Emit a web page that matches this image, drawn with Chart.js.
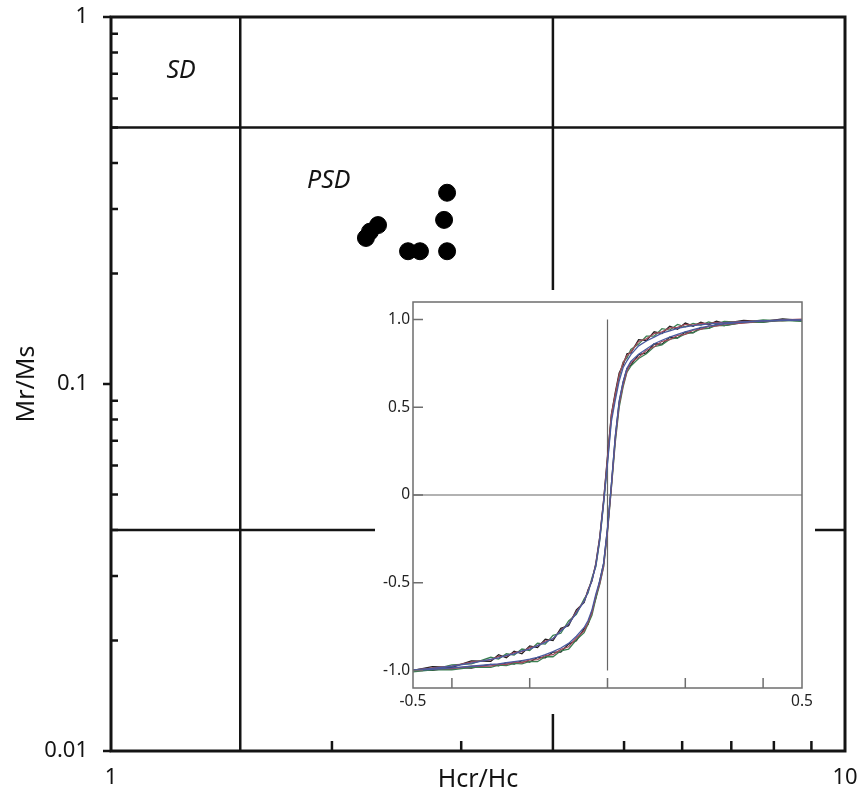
<!DOCTYPE html>
<html>
<head>
<meta charset="utf-8">
<script src="https://cdn.jsdelivr.net/npm/chart.js@4.4.1/dist/chart.umd.min.js"></script>
<style>
  html, body { margin: 0; padding: 0; background: #fff; }
  #wrap { position: relative; width: 859px; height: 798px; }
  #dayPlot { position: absolute; left: 0; top: 0; width: 859px; height: 798px; }
  #loopPlot { position: absolute; left: 375px; top: 290px; width: 440px; height: 424px; background: #fff; }
</style>
</head>
<body>
<div id="wrap">
  <canvas id="dayPlot" width="859" height="798"></canvas>
  <canvas id="loopPlot" width="440" height="424"></canvas>
</div>
<script>
// Day plot samples
const hcrHc = [2.225, 2.253, 2.311, 2.539, 2.636, 2.870, 2.843, 2.870];
const mrMs = [0.250, 0.260, 0.271, 0.230, 0.230, 0.230, 0.280, 0.332];

// domain boundaries
const hcrBounds = [1.5, 4];
const mrMsBounds = [0.5, 0.04];

const dayXTicks = [1, 10];
const dayYTicks = [0.01, 0.1, 1];

const regionNames = ['SD', 'PSD'];
const regionHcr = [1.246, 1.98];
const regionMr = [0.712, 0.357];

// hysteresis inset: field (T) and normalised moment
const fieldH = [-0.5, -0.45, -0.4, -0.35, -0.3,
  -0.28, -0.26, -0.24, -0.22, -0.2,
  -0.18, -0.16, -0.14, -0.12, -0.1,
  -0.08, -0.06, -0.05, -0.04, -0.03,
  -0.02, -0.01, 0, 0.01, 0.02,
  0.03, 0.04, 0.05, 0.06, 0.08,
  0.1, 0.12, 0.14, 0.16, 0.18,
  0.2, 0.22, 0.24, 0.26, 0.28,
  0.3, 0.35, 0.4, 0.45, 0.5];

const blackDown = [-1.0, -0.978, -0.982, -0.945, -0.948,
  -0.91, -0.928, -0.89, -0.905, -0.86,
  -0.87, -0.822, -0.83, -0.76, -0.745,
  -0.655, -0.612, -0.54, -0.49, -0.39,
  -0.24, -0.03, 0.22, 0.46, 0.585,
  0.695, 0.74, 0.805, 0.81, 0.885,
  0.88, 0.93, 0.92, 0.962, 0.945,
  0.98, 0.962, 0.985, 0.97, 0.99,
  0.978, 0.995, 0.988, 1.003, 0.995];
const blackUp = [-0.995, -1.0, -0.982, -0.986, -0.965,
  -0.974, -0.955, -0.964, -0.944, -0.952,
  -0.926, -0.928, -0.895, -0.895, -0.85,
  -0.83, -0.762, -0.738, -0.662, -0.588,
  -0.49, -0.39, -0.19, 0.06, 0.33,
  0.53, 0.64, 0.72, 0.74, 0.80,
  0.81, 0.862, 0.86, 0.9, 0.895,
  0.93, 0.925, 0.955, 0.95, 0.972,
  0.965, 0.986, 0.985, 0.998, 0.992];

const greenDown = [-0.995, -0.996, -0.968, -0.962, -0.925,
  -0.935, -0.905, -0.912, -0.878, -0.886,
  -0.845, -0.85, -0.8, -0.788, -0.718,
  -0.68, -0.592, -0.558, -0.472, -0.408,
  -0.26, -0.05, 0.19, 0.44, 0.56,
  0.67, 0.758, 0.78, 0.83, 0.86,
  0.905, 0.905, 0.948, 0.94, 0.972,
  0.958, 0.978, 0.968, 0.986, 0.974,
  0.99, 0.984, 0.998, 0.992, 1.0];
const greenUp = [-1.008, -0.996, -0.996, -0.982, -0.982,
  -0.97, -0.972, -0.96, -0.962, -0.948,
  -0.95, -0.922, -0.922, -0.888, -0.878,
  -0.825, -0.785, -0.735, -0.685, -0.59,
  -0.51, -0.41, -0.21, 0.04, 0.3,
  0.5, 0.615, 0.7, 0.735, 0.778,
  0.805, 0.845, 0.855, 0.888, 0.895,
  0.918, 0.926, 0.946, 0.95, 0.966,
  0.965, 0.982, 0.986, 0.996, 0.99];

const redDown = [-0.998, -0.985, -0.975, -0.952, -0.94,
  -0.92, -0.918, -0.898, -0.892, -0.87,
  -0.86, -0.832, -0.82, -0.77, -0.735,
  -0.665, -0.605, -0.545, -0.485, -0.395,
  -0.245, -0.035, 0.21, 0.455, 0.575,
  0.685, 0.752, 0.795, 0.815, 0.875,
  0.89, 0.92, 0.93, 0.952, 0.955,
  0.972, 0.968, 0.978, 0.976, 0.984,
  0.982, 0.99, 0.992, 0.998, 1.002];
const redUp = [-0.998, -0.99, -0.99, -0.976, -0.975,
  -0.964, -0.966, -0.952, -0.956, -0.94,
  -0.938, -0.915, -0.91, -0.88, -0.865,
  -0.815, -0.775, -0.725, -0.672, -0.575,
  -0.505, -0.405, -0.205, 0.045, 0.315,
  0.515, 0.625, 0.705, 0.755, 0.785,
  0.825, 0.845, 0.876, 0.885, 0.91,
  0.916, 0.94, 0.944, 0.962, 0.962,
  0.974, 0.98, 0.992, 0.994, 0.998];

const blueDown = [-0.997, -0.988, -0.976, -0.958, -0.937,
  -0.928, -0.914, -0.906, -0.888, -0.878,
  -0.858, -0.84, -0.818, -0.775, -0.735,
  -0.672, -0.605, -0.552, -0.485, -0.402,
  -0.255, -0.045, 0.18, 0.42, 0.54,
  0.65, 0.725, 0.765, 0.8, 0.85,
  0.878, 0.9, 0.922, 0.935, 0.95,
  0.958, 0.965, 0.97, 0.975, 0.978,
  0.981, 0.987, 0.992, 0.996, 0.998];
const blueUp = [-1.0, -0.994, -0.985, -0.976, -0.966,
  -0.962, -0.956, -0.95, -0.944, -0.936,
  -0.925, -0.91, -0.893, -0.872, -0.846,
  -0.805, -0.755, -0.715, -0.655, -0.565,
  -0.49, -0.39, -0.19, 0.06, 0.335,
  0.535, 0.645, 0.722, 0.762, 0.802,
  0.832, 0.862, 0.882, 0.9, 0.915,
  0.93, 0.943, 0.954, 0.963, 0.97,
  0.975, 0.985, 0.992, 0.996, 0.997];

const loopXLabels = [-0.5, 0.5];
const loopXTicks = [-0.4, -0.2, 0, 0.2, 0.4];
const loopYTicks = [-1, -0.5, 0, 0.5, 1];

const FONT = '"Noto Sans", "Open Sans", sans-serif';
const INK = '#141414';

function noEdgePadding(s) {
  s.paddingTop = 0;
  s.paddingBottom = 0;
  s.paddingLeft = 0;
  s.paddingRight = 0;
}

// ---------- main Day plot ----------
const dayFrame = {
  id: 'dayFrame',
  afterDatasetsDraw(chart) {
    const {ctx, chartArea: a, scales: {x, y}} = chart;
    ctx.save();
    ctx.strokeStyle = INK;
    ctx.lineWidth = 3;
    ctx.strokeRect(a.left, a.top, a.right - a.left, a.bottom - a.top);
    ctx.lineWidth = 2.5;
    ctx.beginPath();
    [0.01, 0.1].forEach(dec => {
      for (let m = 2; m <= 9; m++) {
        const py = y.getPixelForValue(dec * m);
        ctx.moveTo(a.left, py);
        ctx.lineTo(a.left + 7, py);
      }
    });
    dayYTicks.forEach(v => {
      const py = y.getPixelForValue(v);
      ctx.moveTo(a.left - 8, py);
      ctx.lineTo(a.left, py);
    });
    [2, 3, 5, 6, 7, 8, 9].forEach(v => {
      const px = x.getPixelForValue(v);
      ctx.moveTo(px, a.bottom);
      ctx.lineTo(px, a.bottom - 10);
    });
    ctx.stroke();

    ctx.fillStyle = INK;
    ctx.font = 'italic 25px ' + FONT;
    ctx.textAlign = 'center';
    ctx.textBaseline = 'middle';
    regionNames.forEach((t, i) => {
      ctx.fillText(t, x.getPixelForValue(regionHcr[i]), y.getPixelForValue(regionMr[i]));
    });
    ctx.restore();
  }
};

const boundarySets = [];
hcrBounds.forEach(v => boundarySets.push({
  data: [{x: v, y: dayYTicks[0]}, {x: v, y: dayYTicks[2]}],
  showLine: true, borderColor: INK, borderWidth: 2.5, pointRadius: 0, order: 5
}));
mrMsBounds.forEach(v => boundarySets.push({
  data: [{x: dayXTicks[0], y: v}, {x: dayXTicks[1], y: v}],
  showLine: true, borderColor: INK, borderWidth: 2.5, pointRadius: 0, order: 5
}));

new Chart(document.getElementById('dayPlot'), {
  type: 'scatter',
  data: {
    datasets: [{
      data: hcrHc.map((v, i) => ({x: v, y: mrMs[i]})),
      backgroundColor: '#000',
      borderColor: '#000',
      pointRadius: 8.5,
      pointHoverRadius: 8.5,
      order: 0
    }].concat(boundarySets)
  },
  options: {
    responsive: false,
    animation: false,
    devicePixelRatio: 1,
    layout: {padding: {left: 0, right: 14, top: 17, bottom: 0}},
    plugins: {legend: {display: false}, tooltip: {enabled: false}},
    scales: {
      x: {
        type: 'logarithmic', min: 1, max: 10,
        grid: {display: false, drawTicks: false},
        border: {display: false},
        afterBuildTicks: s => { s.ticks = dayXTicks.map(v => ({value: v})); },
        afterFit: s => { s.height = 47; noEdgePadding(s); },
        ticks: {
          padding: 14, maxRotation: 0, autoSkip: false, color: INK,
          font: {family: FONT, size: 22},
          callback: v => String(v)
        },
        title: {display: true, text: 'Hcr/Hc', color: INK, font: {family: FONT, size: 25}, padding: {top: 0, bottom: 3}}
      },
      y: {
        type: 'logarithmic', min: 0.01, max: 1,
        grid: {display: false, drawTicks: false},
        border: {display: false},
        afterBuildTicks: s => { s.ticks = dayYTicks.map(v => ({value: v})); },
        afterFit: s => { s.width = 111; noEdgePadding(s); },
        ticks: {
          padding: 23, autoSkip: false, color: INK,
          font: {family: FONT, size: 22},
          callback: v => String(v)
        },
        title: {display: true, text: 'Mr/Ms', color: INK, font: {family: FONT, size: 25}, padding: {top: 12, bottom: 0}}
      }
    }
  },
  plugins: [dayFrame]
});

// ---------- hysteresis inset ----------
const loopFrame = {
  id: 'loopFrame',
  afterDraw(chart) {
    const {ctx, chartArea: a, scales: {x, y}} = chart;
    ctx.save();
    ctx.strokeStyle = '#6e6e6e';
    ctx.lineWidth = 1.5;
    ctx.strokeRect(a.left, a.top, a.right - a.left, a.bottom - a.top);
    ctx.beginPath();
    loopYTicks.forEach(v => {
      const py = y.getPixelForValue(v);
      ctx.moveTo(a.left, py);
      ctx.lineTo(a.left + 10, py);
    });
    loopXTicks.forEach(v => {
      const px = x.getPixelForValue(v);
      ctx.moveTo(px, a.bottom);
      ctx.lineTo(px, a.bottom - 10);
    });
    ctx.stroke();
    ctx.restore();
  }
};

const loopSeries = [
  {down: blueDown, up: blueUp, color: '#4a5aa0'},
  {down: redDown, up: redUp, color: '#a04a5a'},
  {down: greenDown, up: greenUp, color: '#3a7f52'},
  {down: blackDown, up: blackUp, color: '#1e1e1e'}
];

const loopSets = [];
loopSeries.forEach(s => {
  [s.down, s.up].forEach(branch => loopSets.push({
    data: fieldH.map((h, i) => ({x: h, y: branch[i]})),
    showLine: true, borderColor: s.color, borderWidth: 1.3, pointRadius: 0, tension: 0
  }));
});
loopSets.push({
  data: [{x: 0, y: loopYTicks[0]}, {x: 0, y: loopYTicks[4]}],
  showLine: true, borderColor: '#666', borderWidth: 1.2, pointRadius: 0, order: 10
});
loopSets.push({
  data: [{x: loopXLabels[0], y: 0}, {x: loopXLabels[1], y: 0}],
  showLine: true, borderColor: '#666', borderWidth: 1.2, pointRadius: 0, order: 10
});

new Chart(document.getElementById('loopPlot'), {
  type: 'scatter',
  data: {datasets: loopSets},
  options: {
    responsive: false,
    animation: false,
    devicePixelRatio: 1,
    layout: {padding: {left: 0, right: 13, top: 12, bottom: 0}},
    plugins: {legend: {display: false}, tooltip: {enabled: false}},
    scales: {
      x: {
        type: 'linear', min: -0.5, max: 0.5,
        grid: {display: false, drawTicks: false},
        border: {display: false},
        afterBuildTicks: s => { s.ticks = loopXLabels.map(v => ({value: v})); },
        afterFit: s => { s.height = 26; noEdgePadding(s); },
        ticks: {
          padding: 4, maxRotation: 0, autoSkip: false, color: '#222',
          font: {family: FONT, size: 15.5},
          callback: v => String(v)
        }
      },
      y: {
        type: 'linear', min: -1.1, max: 1.1,
        grid: {display: false, drawTicks: false},
        border: {display: false},
        afterBuildTicks: s => { s.ticks = loopYTicks.map(v => ({value: v})); },
        afterFit: s => { s.width = 38; noEdgePadding(s); },
        ticks: {
          padding: 3, autoSkip: false, color: '#222',
          font: {family: FONT, size: 15.5},
          callback: v => v === 0 ? '0' : v.toFixed(1)
        }
      }
    }
  },
  plugins: [loopFrame]
});
</script>
</body>
</html>
